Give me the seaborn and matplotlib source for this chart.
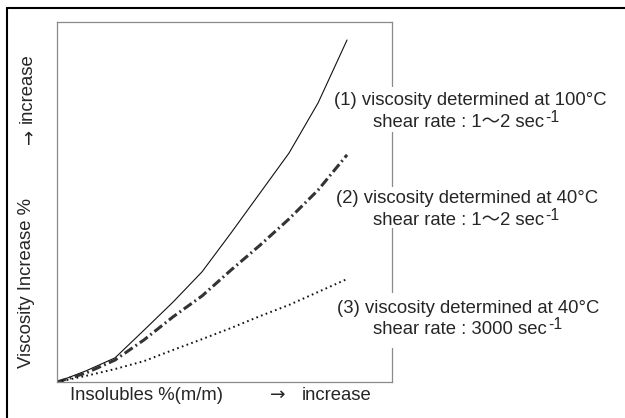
import matplotlib
matplotlib.use("Agg")
import matplotlib.pyplot as plt
from matplotlib.lines import Line2D
from matplotlib.patches import Rectangle
import pandas as pd
import seaborn as sns

# Schematic curves: viscosity increase vs. insolubles content
insolubles = [0, 1, 2, 3, 4, 5, 6, 7, 8, 9, 10]
visc_100c_low_shear = [0, 3.1, 6.7, 14.4, 22.2, 30.6, 41.4, 52.5, 63.6, 77.5, 95.0]
visc_40c_low_shear = [0, 2.5, 6.1, 11.7, 18.1, 23.9, 31.1, 38.0, 45.3, 53.3, 63.1]
visc_40c_high_shear = [0, 1.7, 3.6, 5.8, 8.9, 11.9, 15.0, 18.3, 21.4, 25.0, 28.6]

series_titles = [
    "(1) viscosity determined at 100°C",
    "(2) viscosity determined at 40°C",
    "(3) viscosity determined at 40°C",
]
shear_texts = [
    "shear rate : 1～2 sec",
    "shear rate : 1～2 sec",
    "shear rate : 3000 sec",
]

sns.set_style("white")
plt.rcParams["font.family"] = ["Liberation Sans", "Noto Sans CJK JP", "DejaVu Sans"]
plt.rcParams["lines.scale_dashes"] = False

W, H = 625, 418
fig = plt.figure(figsize=(W / 100, H / 100), dpi=100)
ax = fig.add_axes([57 / W, 1 - 382 / H, (392 - 57) / W, (382 - 22) / H])

df = pd.DataFrame({
    "x": insolubles,
    "c1": visc_100c_low_shear,
    "c2": visc_40c_low_shear,
    "c3": visc_40c_high_shear,
})

sns.lineplot(data=df, x="x", y="c1", ax=ax, color="#111111", lw=0.8,
             linestyle="-")
sns.lineplot(data=df, x="x", y="c2", ax=ax, color="#333333", lw=2.2,
             linestyle=(0, (7, 2.5, 1.3, 2.5)))
sns.lineplot(data=df, x="x", y="c3", ax=ax, color="#111111", lw=1.4,
             linestyle=(0, (1.2, 2.4)))

ax.set_xlim(0, 11.55)
ax.set_ylim(0, 100)
ax.set_xticks([])
ax.set_yticks([])
ax.set_xlabel("")
ax.set_ylabel("")
for sp in ax.spines.values():
    sp.set_color("#8a8a8a")
    sp.set_linewidth(0.9)

FS = 13.3
ARROW_FONT = ["DejaVu Sans"]


def fx(px):
    return px / W


def fy(py):
    return 1 - py / H


# axis captions
fig.text(fx(70), fy(400), "Insolubles %(m/m)", fontsize=FS, ha="left", va="baseline")
fig.text(fx(278), fy(400), "→", fontsize=FS, family=ARROW_FONT, ha="center", va="baseline")
fig.text(fx(302), fy(400), "increase", fontsize=FS, ha="left", va="baseline")
fig.text(fx(27), fy(283), "Viscosity Increase %", fontsize=FS, rotation=90,
         ha="center", va="center")
fig.text(fx(28), fy(140), "↑", fontsize=FS, family=ARROW_FONT,
         ha="center", va="center")
fig.text(fx(27), fy(88), "increase", fontsize=FS, rotation=90, ha="center", va="center")

# white patches where the annotations cross the right frame
for y0, y1 in [(87, 132), (187, 228), (293, 348)]:
    fig.add_artist(Rectangle((fx(386), fy(y1)), (398 - 386) / W, (y1 - y0) / H,
                             transform=fig.transFigure, facecolor="white",
                             edgecolor="none", zorder=2))

title_baselines = [105, 203, 313]
shear_baselines = [127, 225, 334]
title_centers = [470, 467, 468]
shear_centers = [459, 459, 460]

shear_artists = []
for t, s, yb1, yb2, cx1, cx2 in zip(series_titles, shear_texts, title_baselines,
                                     shear_baselines, title_centers, shear_centers):
    fig.text(fx(cx1), fy(yb1), t, fontsize=FS, ha="center", va="baseline", zorder=3)
    st = fig.text(fx(cx2), fy(yb2), s, fontsize=FS, ha="center", va="baseline", zorder=3)
    shear_artists.append((st, yb2))

fig.canvas.draw()
renderer = fig.canvas.get_renderer()
for st, yb in shear_artists:
    bb = st.get_window_extent(renderer)
    fig.text((bb.x1 + 1) / W, fy(yb - 5), "-1", fontsize=FS * 0.85,
             ha="left", va="baseline", zorder=3)

# frame lines along the top and left edges of the figure
fig.add_artist(Line2D([fx(7), 1.0], [fy(8), fy(8)], transform=fig.transFigure,
                      color="black", lw=1.5))
fig.add_artist(Line2D([fx(7), fx(7)], [fy(8), 0.0], transform=fig.transFigure,
                      color="black", lw=1.5))

fig.savefig("out.png", dpi=100)
